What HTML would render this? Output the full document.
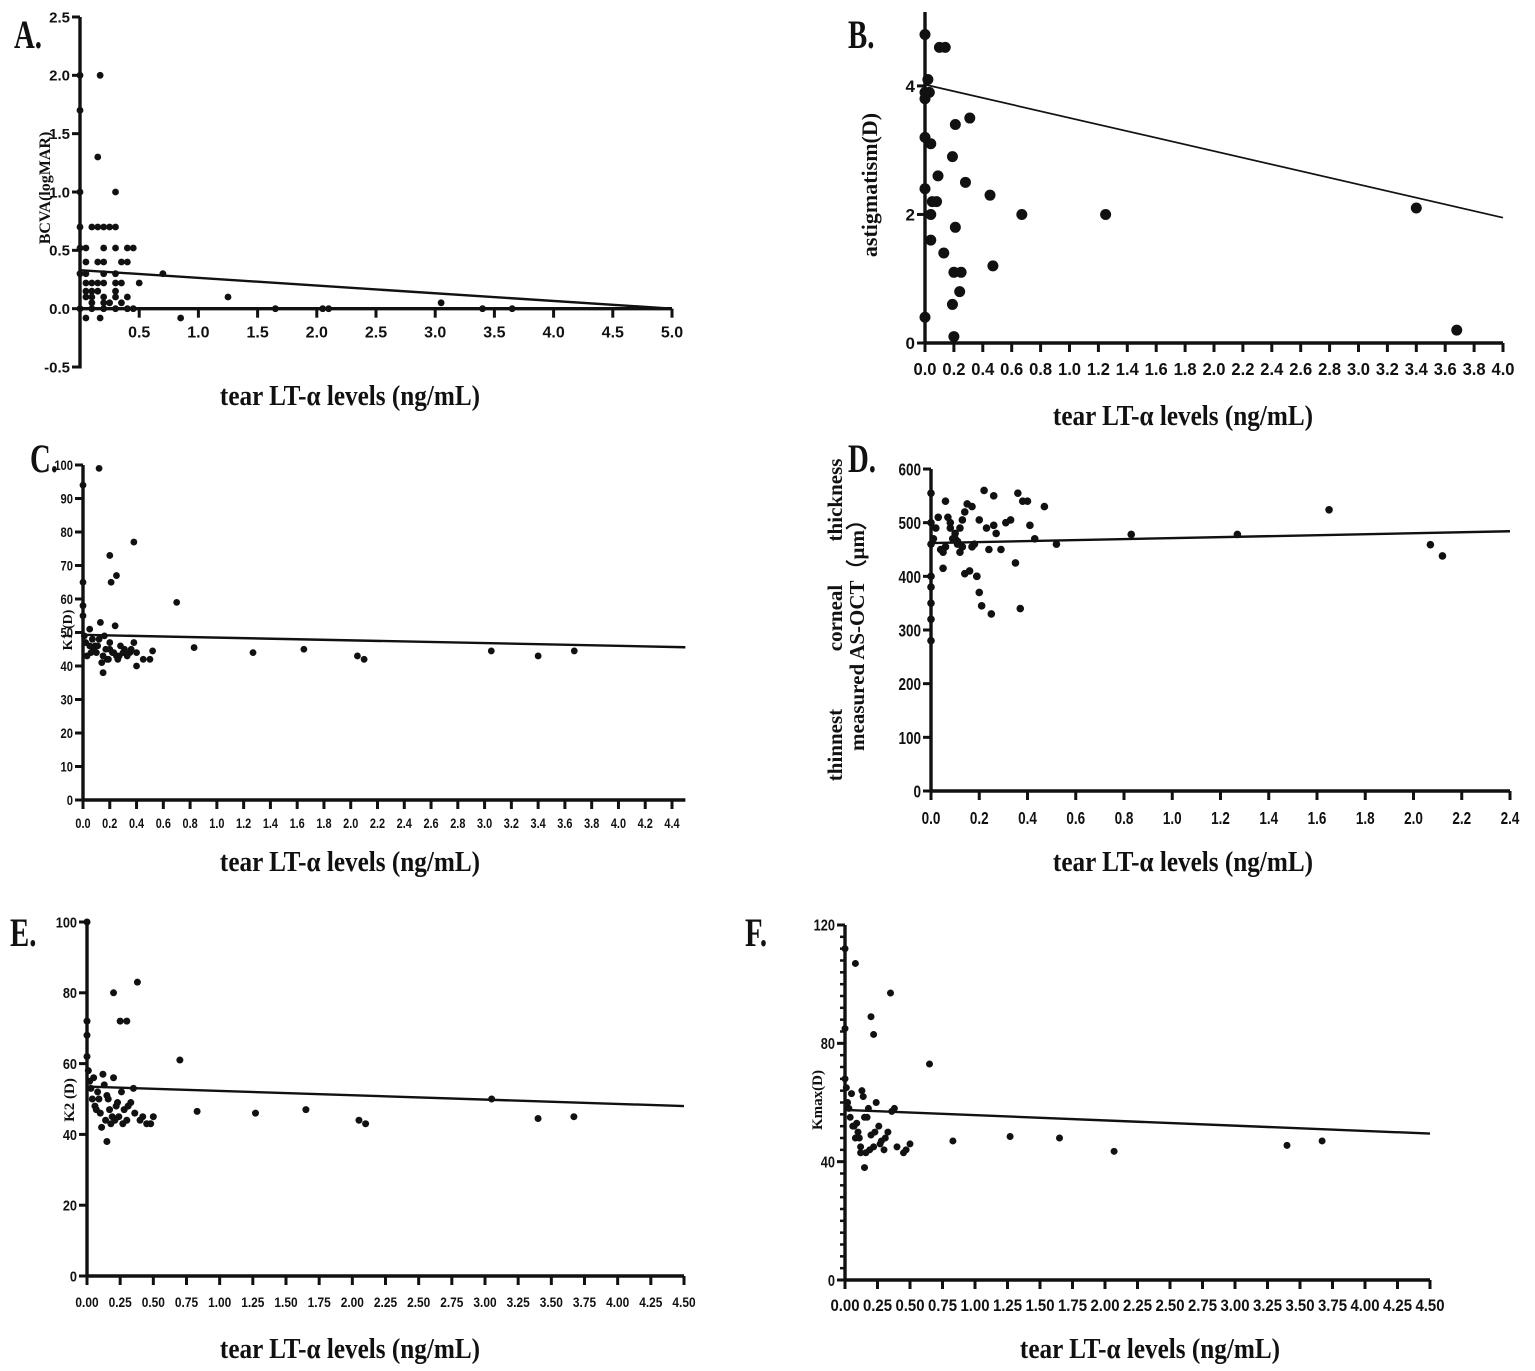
<!DOCTYPE html>
<html><head><meta charset="utf-8"><style>
html,body{margin:0;padding:0;background:#fff;}
svg{display:block;}
.tk{font-family:"Liberation Sans",sans-serif;font-weight:bold;fill:#111;}
.tt{font-family:"Liberation Serif",serif;font-weight:bold;fill:#111;}
</style></head><body>
<svg id="fig" width="1535" height="1371" viewBox="0 0 1535 1371" xmlns="http://www.w3.org/2000/svg"></svg>
<script>
// ---- data (x = tear LT-alpha ng/mL, y = outcome) ----
const aX=[0,0.17,0,0.15,0,0.3,0,0.1,0.15,0.2,0.25,0.3,0,0.05,0.2,0.3,0.4,0.45,0.05,0.15,0.2,0.35,0.4,0,0.05,0.2,0.3,0.7,0.05,0.1,0.15,0.2,0.3,0.35,0.5,0.05,0.1,0.15,0.3,0.05,0.1,0.2,0.3,0.4,1.25,0.1,0.2,0.25,0.35,0,0.1,0.2,0.3,0.4,0.45,1.65,2.05,2.1,3.05,3.4,3.65,0.05,0.17,0.85];
const aY=[2.0,2.0,1.7,1.3,1.0,1.0,0.7,0.7,0.7,0.7,0.7,0.7,0.52,0.52,0.52,0.52,0.52,0.52,0.4,0.4,0.4,0.4,0.4,0.3,0.3,0.3,0.3,0.3,0.22,0.22,0.22,0.22,0.22,0.22,0.22,0.15,0.15,0.15,0.15,0.1,0.1,0.1,0.1,0.1,0.1,0.05,0.05,0.05,0.05,0,0,0,0,0,0,0,0,0,0.05,0,0,-0.08,-0.08,-0.08];
const bX=[0,0.1,0.14,0.02,0,0.03,0,0.31,0.21,0,0.04,0.19,0.09,0.28,0.45,0,0.05,0.08,0.04,0.67,1.25,3.4,0.21,0.04,0.13,0.47,0.2,0.25,0.24,0.19,0,0.2,3.68];
const bY=[4.8,4.6,4.6,4.1,3.9,3.9,3.8,3.5,3.4,3.2,3.1,2.9,2.6,2.5,2.3,2.4,2.2,2.2,2.0,2.0,2.0,2.1,1.8,1.6,1.4,1.2,1.1,1.1,0.8,0.6,0.4,0.1,0.2];
const cX=[0,0.12,0,0.2,0.25,0.21,0.38,0.7,0,0,0.05,0.24,0.13,0.83,1.27,1.65,2.05,2.1,3.05,3.4,3.67,0.15,0.4,0.02,0.05,0.08,0.1,0.12,0.15,0.18,0.2,0.22,0.25,0.28,0.3,0.33,0.36,0.4,0.45,0.5,0.52,0.03,0.06,0.09,0.14,0.17,0.19,0.23,0.27,0.31,0.35,0.38,0.01,0.07,0.11,0.16,0.2,0.26];
const cY=[94,99,65,73,67,65,77,59,58,55,51,52,53,45.5,44,45,43,42,44.5,43,44.5,38,40,47,46,45,44,48,43,42,47,44,43,46,44,43,45,44,42,42,44.5,43,44,46,41,45,42,44,43,45,44,47,49,48,46,49,45,42];
const dX=[0,0,0,0,0,0,0,0,0.01,0.03,0.05,0.06,0.08,0.1,0.11,0.12,0.13,0.14,0.15,0.16,0.17,0.18,0.19,0.2,0.21,0.22,0.23,0.24,0.25,0.26,0.27,0.29,0.31,0.33,0.35,0.36,0.37,0.38,0.4,0.41,0.43,0.47,0.52,0.83,1.27,1.65,2.07,2.12,0.04,0.07,0.09,0.11,0.13,0.05,0.02,0.06,0.1,0.14,0.17,0.19,0.2,0.26,0.12,0.08];
const dY=[555,500,460,400,380,350,320,280,470,510,445,540,500,480,465,490,455,520,535,410,530,460,400,370,345,560,490,450,330,550,480,450,500,505,425,555,340,540,540,495,470,530,460,478,478,524,459,438,450,510,470,460,505,415,490,455,470,405,455,400,505,495,445,490];
const eX=[0,0,0,0.2,0.25,0.3,0.38,0.7,0.83,1.27,1.65,2.05,2.1,3.05,3.4,3.67,0.15,0.02,0.04,0.06,0.08,0.1,0.12,0.14,0.16,0.18,0.2,0.22,0.24,0.26,0.28,0.3,0.33,0.36,0.4,0.45,0.5,0.03,0.07,0.11,0.15,0.19,0.23,0.27,0.31,0.35,0.42,0.48,0,0.01,0.05,0.09,0.13,0.17,0.21];
const eY=[100,72,68,80,72,72,83,61,46.5,46,47,44,43,50,44.5,45,38,55,50,48,52,46,57,44,50,43,56,48,45,52,47,44,49,46,44,43,45,53,47,42,51,45,49,43,48,53,45,43,62,58,56,50,54,47,44];
const fX=[0,0.08,0.35,0.2,0.22,0,0.65,0,0.05,0.83,1.27,1.65,2.07,3.4,3.67,0.15,0.02,0.04,0.06,0.08,0.1,0.12,0.14,0.16,0.18,0.2,0.22,0.24,0.26,0.28,0.3,0.33,0.36,0.4,0.45,0.5,0.03,0.07,0.11,0.15,0.19,0.23,0.27,0.31,0.38,0.47,0.01,0.09,0.13,0.17,0.12];
const fY=[112,107,97,89,83,85,73,68,63,47,48.5,48,43.5,45.5,47,38,60,55,52,48,50,45,62,43,58,49,45,60,52,47,44,50,57,45,43,46,58,52,48,55,44,50,46,48,58,44,65,53,64,55,43];
// regression lines [y at x0, y at x1]
const aFit=[0.33,0.0], bFit=[4.02,1.95], cFit=[49.3,45.6], dFit=[462,484], eFit=[53.5,48], fFit=[57.5,49.5];
// tick label arrays
const aXTicks=["0.5","1.0","1.5","2.0","2.5","3.0","3.5","4.0","4.5","5.0"];
const aYTicks=["-0.5","0.0","0.5","1.0","1.5","2.0","2.5"];

const svg=document.getElementById('fig');
const NS='http://www.w3.org/2000/svg';
function mk(tag,at,parent,txt){const e=document.createElementNS(NS,tag);for(const k in at)e.setAttribute(k,at[k]);if(txt!==undefined)e.textContent=txt;(parent||svg).appendChild(e);return e;}

function panel(p){
  const g=mk('g',{});
  
  
  const sx=v=>p.x0+(v-p.xmin)/(p.xmax-p.xmin)*(p.x1-p.x0);
  const sy=v=>p.y0+(v-p.ymin)/(p.ymax-p.ymin)*(p.y1-p.y0);
  const ax=sy(p.xAxisAt);
  const ya=mk('line',{x1:sx(p.xmin),x2:sx(p.xmin),y1:sy(p.ymin)+1.5,y2:sy(p.ymax),stroke:'#111','stroke-width':3.4},g);
  
  const xa=mk('line',{x1:sx(p.xmin)-1.5,x2:sx(p.xAxisEnd),y1:ax,y2:ax,stroke:'#111','stroke-width':3.4},g);
  
  if(p.yMinor){for(let v=p.ymin;v<=p.ymax+1e-9;v+=p.yMinor){mk('line',{x1:sx(p.xmin)-5,x2:sx(p.xmin),y1:sy(v),y2:sy(v),stroke:'#111','stroke-width':2.5},g);}}
  const yc=p.ycond||1;
  p.yTicks.forEach(t=>{const v=parseFloat(t);mk('line',{x1:sx(p.xmin)-8,x2:sx(p.xmin),y1:sy(v),y2:sy(v),stroke:'#111','stroke-width':3},g);
    const lx=sx(p.xmin)-10;
    const tl=mk('text',{x:lx,y:sy(v)+p.yfs*0.36,'text-anchor':'end','font-size':p.yfs,class:'tk',transform:`translate(${lx},0) scale(${yc},1) translate(${-lx},0)`},g,t);
    });
  p.xTicks.forEach(t=>{const v=parseFloat(t);mk('line',{x1:sx(v),x2:sx(v),y1:ax,y2:ax+9,stroke:'#111','stroke-width':3},g);
    const cx=sx(v);const tl=mk('text',{x:cx,y:ax+p.xlab,'text-anchor':'middle','font-size':p.xfs,class:'tk',transform:`translate(${cx},0) scale(${p.xcond||1},1) translate(${-cx},0)`},g,t);
    });
  const fl=mk('line',{x1:sx(p.xmin),y1:sy(p.fit[0]),x2:sx(p.fitEnd),y2:sy(p.fit[1]),stroke:'#111','stroke-width':p.fitW||2.4},g);
  
  p.xs.forEach((xv,i)=>{const c=mk('circle',{cx:sx(xv),cy:sy(p.ys[i]),r:p.r,fill:'#111'},g);
    });
}
function rng(a,b,s,d){const o=[];for(let i=0;a+i*s<=b+1e-9;i++)o.push((a+i*s).toFixed(d));return o;}

panel({name:'panel-a',xs:aX,ys:aY,fit:aFit,fitEnd:5,xmin:0,xmax:5,ymin:-0.5,ymax:2.5,x0:80,x1:672,y0:367,y1:17,xAxisAt:0,xAxisEnd:5,
  xTicks:aXTicks,yTicks:aYTicks,yfs:15,xfs:16,xlab:29,r:3.4});
panel({name:'panel-b',xs:bX,ys:bY,fit:bFit,fitEnd:4,xmin:0,xmax:4,ymin:0,ymax:5.15,x0:925,x1:1503,y0:343,y1:12,xAxisAt:0,xAxisEnd:4,
  xTicks:rng(0,4,0.2,1),yTicks:["0","2","4"],yfs:17,xfs:18,xlab:32,xcond:0.92,r:5.5,fitW:1.7});
panel({name:'panel-c',xs:cX,ys:cY,fit:cFit,fitEnd:4.5,xmin:0,xmax:4.4,ymin:0,ymax:100,x0:83,x1:672,y0:800,y1:465,xAxisAt:0,xAxisEnd:4.5,
  xTicks:rng(0,4.4,0.2,1),yTicks:rng(0,100,10,0),yfs:14,xfs:14,xlab:28,xcond:0.78,ycond:0.8,r:3.4});
panel({name:'panel-d',xs:dX,ys:dY,fit:dFit,fitEnd:2.4,xmin:0,xmax:2.4,ymin:0,ymax:600,x0:931,x1:1510,y0:791,y1:469,xAxisAt:0,xAxisEnd:2.4,
  xTicks:rng(0,2.4,0.2,1),yTicks:rng(0,600,100,0),yfs:18,xfs:18,xlab:33,xcond:0.75,ycond:0.75,r:3.8});
panel({name:'panel-e',xs:eX,ys:eY,fit:eFit,fitEnd:4.5,xmin:0,xmax:4.5,ymin:0,ymax:100,x0:87,x1:684,y0:1276,y1:922,xAxisAt:0,xAxisEnd:4.5,
  xTicks:rng(0,4.5,0.25,2),yTicks:rng(0,100,20,0),yfs:15,xfs:14,xlab:31,xcond:0.85,ycond:0.85,r:3.5});
panel({name:'panel-f',xs:fX,ys:fY,fit:fFit,fitEnd:4.5,xmin:0,xmax:4.5,ymin:0,ymax:120,x0:845,x1:1430,y0:1280,y1:925,xAxisAt:0,xAxisEnd:4.5,
  xTicks:rng(0,4.5,0.25,2),yTicks:["0","40","80","120"],yMinor:4,yfs:16,xfs:17,xlab:31,xcond:0.88,ycond:0.8,r:3.5});

function txt(name,x,y,s,fs,extra){const t=mk('text',Object.assign({x:x,y:y,'font-size':fs,class:'tt'},extra||{}),svg,s);
  return t;}
function cond(x,y,k){return `translate(${x},${y}) scale(${k},1) translate(${-x},${-y})`;}
txt('panel-label-a',14,48,'A.',40,{transform:cond(14,48,0.72)});
txt('panel-label-b',848,48,'B.',40,{transform:cond(848,48,0.72)});
txt('panel-label-c',30,472,'C.',40,{transform:cond(30,472,0.72)});
txt('panel-label-d',848,472,'D.',40,{transform:cond(848,472,0.72)});
txt('panel-label-e',10,946,'E.',40,{transform:cond(10,946,0.72)});
txt('panel-label-f',745,946,'F.',40,{transform:cond(745,946,0.72)});
[[350,405,'x-axis-title-a'],[1183,425,'x-axis-title-b'],[350,871,'x-axis-title-c'],[1183,871,'x-axis-title-d'],[350,1358,'x-axis-title-e'],[1150,1358,'x-axis-title-f']].forEach(a=>{
  txt(a[2],a[0],a[1],'tear LT-α levels (ng/mL)',28,{'text-anchor':'middle',transform:cond(a[0],a[1],0.9)});});
function ylab(name,x,y,s,fs){return txt(name,x,y,s,fs,{'text-anchor':'middle',transform:`rotate(-90 ${x} ${y})`});}
ylab('y-axis-title-a',50,188,'BCVA(logMAR)',16);
ylab('y-axis-title-b',877,185,'astigmatism(D)',22);
ylab('y-axis-title-c',72,630,'K1  (D)',14);
ylab('y-axis-title-d-1',842,500,'thickness',21);
ylab('y-axis-title-d-2',842,618,'corneal',21);
ylab('y-axis-title-d-3',842,745,'thinnest',21);
ylab('y-axis-title-d-4',864,630,'measured AS-OCT（μm）',21);
ylab('y-axis-title-e',74,1100,'K2  (D)',15);
ylab('y-axis-title-f',822,1100,'Kmax(D)',15);
</script>
</body></html>
